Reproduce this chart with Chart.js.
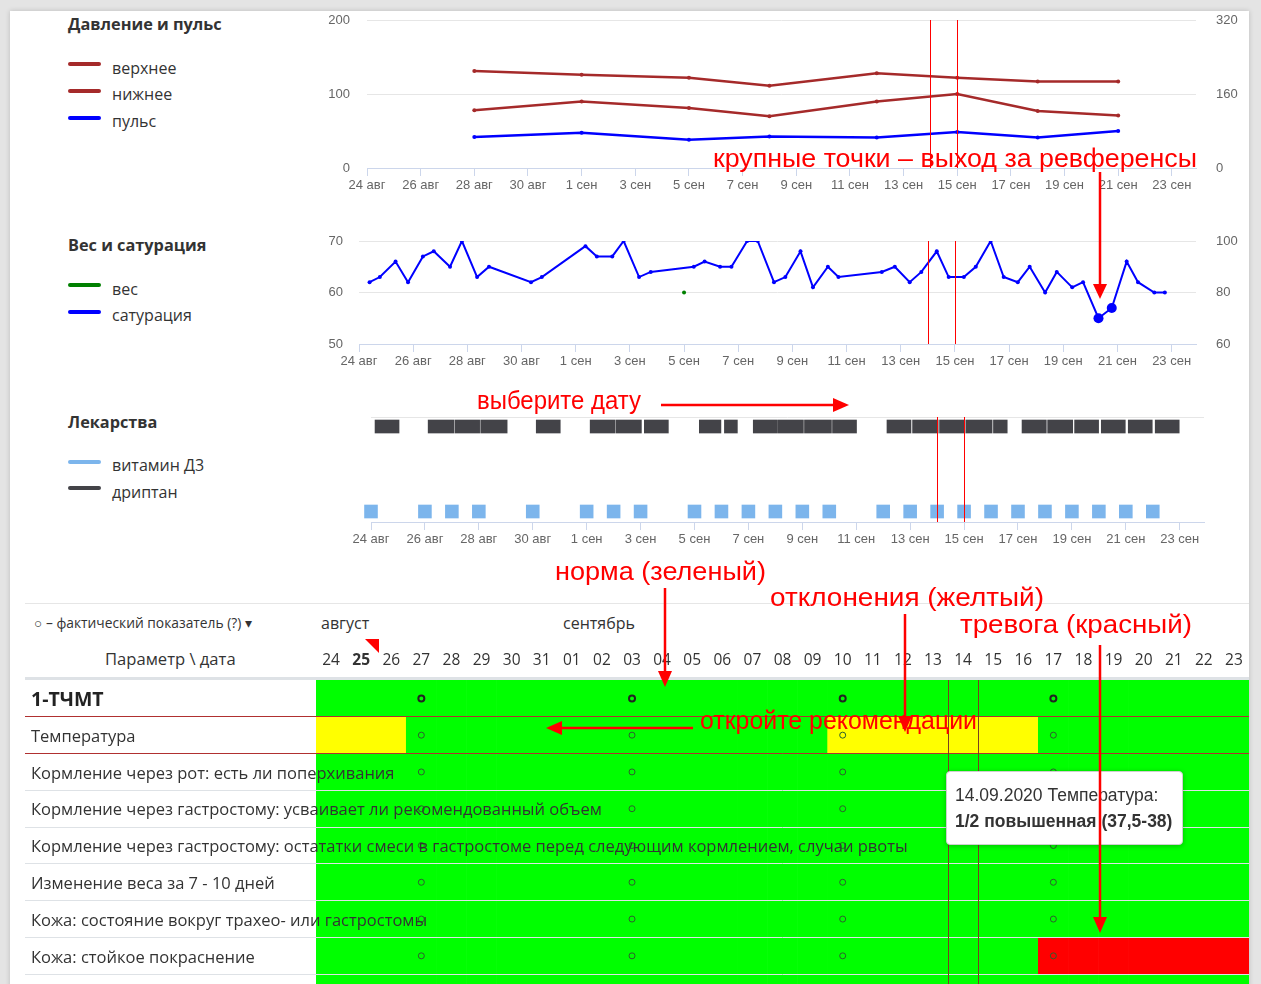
<!DOCTYPE html>
<html lang="ru">
<head>
<meta charset="utf-8">
<title>Показатели пациента</title>
<script src="https://cdn.jsdelivr.net/npm/chart.js@4.4.1/dist/chart.umd.min.js"></script>
<style>
  html, body { margin: 0; padding: 0; overflow: hidden; }
  body { width: 1261px; height: 984px; position: relative; background: #e4e4e4; font-family: 'Open Sans', sans-serif; color: #333; }
  #sheet { position: absolute; left: 10px; top: 11px; width: 1239px; height: 990px; background: #fff; box-shadow: 0 0 5px rgba(0,0,0,0.18); }
  canvas { position: absolute; }
  .ttl { position: absolute; left: 68px; font: bold 16.3px/20px 'Open Sans', sans-serif; color: #333; white-space: nowrap; }
  .sw { position: absolute; left: 68px; width: 33px; height: 4px; border-radius: 2px; }
  .lg { position: absolute; left: 112px; font: 16px/20px 'Open Sans', sans-serif; color: #333; white-space: nowrap; }
  .hl { position: absolute; left: 25px; width: 1224px; }
  .mon { position: absolute; top: 613px; font: 16px/20px 'Open Sans', sans-serif; color: #333; }
  #fact { position: absolute; left: 34px; top: 614px; font: 13.8px/18px 'Open Sans', sans-serif; color: #333; white-space: nowrap; }
  #param { position: absolute; left: 105px; top: 649px; font: 16.6px/20px 'Open Sans', sans-serif; color: #333; }
  #tip { position: absolute; left: 946px; top: 771px; width: 235px; height: 72px; background: #fff; border: 1px solid #cfcfcf; border-radius: 4px; box-shadow: 0 1px 5px rgba(0,0,0,0.25); font-family: 'Liberation Sans', Arial, sans-serif; color: #333; }
  #tip div { position: absolute; left: 8px; white-space: nowrap; font-size: 17.5px; line-height: 20px; }
  #notes { position: absolute; left: 0; top: 0; }
</style>
</head>
<body>
<div id="sheet"></div>

<!-- левая колонка с легендами -->
<div class="ttl" style="top:14px">Давление и пульс</div>
<div class="sw" style="top:62px;background:#a52a2a"></div><div class="lg" style="top:58px">верхнее</div>
<div class="sw" style="top:89px;background:#a52a2a"></div><div class="lg" style="top:84px">нижнее</div>
<div class="sw" style="top:116px;background:#0000ff"></div><div class="lg" style="top:111px">пульс</div>

<div class="ttl" style="top:235px">Вес и сатурация</div>
<div class="sw" style="top:283px;background:#008000"></div><div class="lg" style="top:279px">вес</div>
<div class="sw" style="top:310px;background:#0000ff"></div><div class="lg" style="top:305px">сатурация</div>

<div class="ttl" style="top:412px">Лекарства</div>
<div class="sw" style="top:460px;background:#7cb5ec"></div><div class="lg" style="top:455px">витамин Д3</div>
<div class="sw" style="top:486px;background:#434348"></div><div class="lg" style="top:482px">дриптан</div>

<canvas id="bp" width="950" height="190" style="left:300px;top:10px"></canvas>
<canvas id="ws" width="950" height="150" style="left:300px;top:230px"></canvas>
<canvas id="med" width="950" height="155" style="left:300px;top:405px"></canvas>

<!-- шапка таблицы -->
<div class="hl" style="top:603px;height:1px;background:#e6e6e6"></div>
<div id="fact">○ – фактический показатель (?) ▾</div>
<div class="mon" style="left:321px">август</div>
<div class="mon" style="left:563px">сентябрь</div>
<div id="param">Параметр \ дата</div>
<div class="hl" style="top:677px;height:3px;background:#dee2e6"></div>

<canvas id="tbl" width="1224" height="381" style="left:25px;top:630px"></canvas>

<div id="tip">
  <div style="top:13px">14.09.2020 Температура:</div>
  <div style="top:39px;font-weight:bold">1/2 повышенная (37,5-38)</div>
</div>

<svg id="notes" width="1261" height="984">
  <polygon points="365,639 379,639 379,653" fill="#ff0000"/>
  <g fill="#ff0000" font-family="'Liberation Sans', Arial, sans-serif" font-size="25" style="white-space:pre">
    <text x="713" y="167" textLength="484" lengthAdjust="spacingAndGlyphs">крупные точки – выход за ревференсы</text>
    <text x="477" y="409" textLength="164" lengthAdjust="spacingAndGlyphs">выберите дату</text>
    <text x="555" y="580" textLength="211" lengthAdjust="spacingAndGlyphs">норма (зеленый)</text>
    <text x="770" y="606" textLength="274" lengthAdjust="spacingAndGlyphs">отклонения  (желтый)</text>
    <text x="960" y="633" textLength="232" lengthAdjust="spacingAndGlyphs">тревога  (красный)</text>
    <text x="700" y="729" textLength="277" lengthAdjust="spacingAndGlyphs">откройте рекомендации</text>
  </g>
  <g stroke="#ff0000" stroke-width="2.5">
    <line x1="1100" y1="172" x2="1100" y2="285"/>
    <line x1="661" y1="405" x2="834" y2="405"/>
    <line x1="665" y1="588" x2="665" y2="672"/>
    <line x1="905" y1="614" x2="905" y2="717"/>
    <line x1="1100" y1="645" x2="1100" y2="918"/>
    <line x1="693" y1="728" x2="561" y2="728"/>
  </g>
  <g fill="#ff0000">
    <polygon points="1093,284 1107,284 1100,299"/>
    <polygon points="833,398 833,412 849,405"/>
    <polygon points="658,671 672,671 665,687"/>
    <polygon points="898,716 912,716 905,732"/>
    <polygon points="1093,917 1107,917 1100,933"/>
    <polygon points="562,721 562,735 546,728"/>
  </g>
</svg>

<script>
// ---------- данные ----------
// подписи оси времени (шаг 2 дня, отсчёт дней от 24 авг)
const dayTicks = ['24 авг', '26 авг', '28 авг', '30 авг', '1 сен', '3 сен', '5 сен', '7 сен',
                  '9 сен', '11 сен', '13 сен', '15 сен', '17 сен', '19 сен', '21 сен', '23 сен'];
const selectedDay = 21; // 14 сен - выбранная дата

// давление и пульс
const bpDays  = [4, 8, 12, 15, 19, 22, 25, 28];
const bpUpper = [131, 126, 122, 111, 128, 122, 117, 117];
const bpLower = [78, 90, 81, 70, 90, 100, 77, 71];
const pulse   = [67, 76, 61, 68, 66, 78, 66, 80];

// вес и сатурация
const weightDays = [12];
const weight = [60];
const satDays = [0.39, 0.77, 1.35, 1.81, 2.36, 2.76, 3.36, 3.8, 4.36, 4.8, 6.35, 6.75, 8.36, 8.78,
                 9.35, 9.77, 10.34, 10.77, 12.36, 12.76, 13.33, 13.75, 14.33, 14.72, 15.32, 15.74,
                 16.3, 16.76, 17.31, 17.7, 19.3, 19.78, 20.33, 20.76, 21.33, 21.77, 22.33, 22.77,
                 23.32, 23.8, 24.32, 24.76, 25.33, 25.76, 26.33, 26.73, 27.3, 27.79, 28.34, 28.76,
                 29.36, 29.75];
const saturation = [84, 86, 92, 84, 94, 96, 90, 100, 86, 90, 84, 86, 98, 94,
                    94, 100, 86, 88, 90, 92, 90, 90, 100, 100, 84, 86,
                    96, 82, 90, 86, 88, 90, 84, 88, 96, 86, 86, 90,
                    100, 86, 84, 90, 80, 88, 82, 84, 70, 74, 92, 84,
                    80, 80];
const satRefLow = 75; // ниже - выход за референс

// лекарства
const vitaminDays = [0, 2, 3, 4, 6, 8, 9, 10, 12, 13, 14, 15, 16, 17, 19, 20, 21, 22, 23, 24, 25, 26, 27, 28, 29];
const vitDose = 0.48;
const dripStart = [0.15, 2.12, 3.12, 4.07, 6.13, 8.13, 9.1, 10.14, 12.18, 13.11, 14.18, 15.11, 16.08,
                   17.12, 19.14, 20.09, 21.09, 22.08, 23.09, 24.15, 25.1, 26.1, 27.09, 28.09, 29.09];
const dripEnd   = [1.04, 3.08, 4.03, 5.05, 7.02, 9.06, 10.03, 11.03, 12.98, 13.59, 15.08, 16.04, 17.08,
                   18.01, 20.03, 21.04, 22.04, 23.04, 23.6, 25.05, 26.03, 26.99, 27.98, 28.98, 29.98];

// таблица показателей
const tableDays = ['24', '25', '26', '27', '28', '29', '30', '31',
                   '01', '02', '03', '04', '05', '06', '07', '08', '09', '10', '11', '12',
                   '13', '14', '15', '16', '17', '18', '19', '20', '21', '22', '23'];
const todayIdx = 1;
const rowNames = [
  '1-ТЧМТ',
  'Температура',
  'Кормление через рот: есть ли поперхивания',
  'Кормление через гастростому: усваивает ли рекомендованный объем',
  'Кормление через гастростому: остататки смеси в гастростоме перед следующим кормлением, случаи рвоты',
  'Изменение веса за 7 - 10 дней',
  'Кожа: состояние вокруг трахео- или гастростомы',
  'Кожа: стойкое покраснение',
  ''
];
// g - норма, y - отклонение, r - тревога (август | сентябрь)
const rowStatus = [
  'gggggggg|ggggggggggggggggggggggg',
  'yyyggggg|gggggggggyyyyyyyggggggg',
  'gggggggg|ggggggggggggggggggggggg',
  'gggggggg|ggggggggggggggggggggggg',
  'gggggggg|ggggggggggggggggggggggg',
  'gggggggg|ggggggggggggggggggggggg',
  'gggggggg|ggggggggggggggggggggggg',
  'gggggggg|ggggggggggggggggrrrrrrr',
  'gggggggg|ggggggggggggggggggggggg'
];
const markDays = ['27', '03', '10', '17'];

// ---------- общие настройки ----------
Chart.defaults.animation = false;
Chart.defaults.responsive = false;
Chart.defaults.events = [];
Chart.defaults.plugins.legend.display = false;
Chart.defaults.plugins.tooltip.enabled = false;
Chart.defaults.font.family = "'Liberation Sans', Arial, sans-serif";
Chart.defaults.color = '#666';

// красные линии выбранной даты
const dayLines = {
  id: 'dayLines',
  afterDatasetsDraw(chart) {
    const { ctx, chartArea: a, scales: { x } } = chart;
    ctx.save();
    ctx.strokeStyle = '#ff0000';
    ctx.lineWidth = 1;
    [selectedDay, selectedDay + 1].forEach(d => {
      const px = Math.round(x.getPixelForValue(d)) + 0.5;
      ctx.beginPath();
      ctx.moveTo(px, a.top);
      ctx.lineTo(px, a.bottom);
      ctx.stroke();
    });
    ctx.restore();
  }
};

function dayAxis(height) {
  return {
    type: 'linear', min: 0, max: 30.9,
    afterBuildTicks: s => { s.ticks = dayTicks.map((t, i) => ({ value: i * 2 })); },
    afterFit: s => { s.height = height; },
    ticks: { callback: (v, i) => dayTicks[i], font: { size: 13 }, padding: 2, maxRotation: 0, autoSkip: false },
    grid: { drawOnChartArea: false, tickLength: 8, tickColor: '#ccd6eb' },
    border: { color: '#ccd6eb' }
  };
}

function leftAxis(min, max, step, width, gap) {
  return {
    position: 'left', min: min, max: max,
    afterFit: s => { s.width = width; },
    ticks: { stepSize: step, padding: 0, font: { size: 13 } },
    grid: { color: '#e6e6e6', tickLength: gap, tickColor: 'transparent' },
    border: { display: false }
  };
}

function rightAxis(min, max, step, width) {
  return {
    position: 'right', min: min, max: max,
    afterFit: s => { s.width = width; },
    ticks: { stepSize: step, padding: 0, font: { size: 13 } },
    grid: { display: false, drawTicks: true, tickLength: 20 },
    border: { display: false }
  };
}

function pts(days, vals) {
  return days.map((d, i) => ({ x: d, y: vals[i] }));
}

// давление и пульс
new Chart(document.getElementById('bp'), {
  type: 'line',
  data: {
    datasets: [
      { label: 'верхнее', data: pts(bpDays, bpUpper), borderColor: '#a52a2a', pointBackgroundColor: '#a52a2a', yAxisID: 'y' },
      { label: 'нижнее', data: pts(bpDays, bpLower), borderColor: '#a52a2a', pointBackgroundColor: '#a52a2a', yAxisID: 'y' },
      { label: 'пульс', data: pts(bpDays, pulse), borderColor: '#0000ff', pointBackgroundColor: '#0000ff', yAxisID: 'y2' }
    ]
  },
  options: {
    layout: { autoPadding: false, padding: { top: 10 } },
    elements: { line: { borderWidth: 2.5, tension: 0 }, point: { radius: 2, borderWidth: 0 } },
    scales: {
      x: dayAxis(32),
      y: leftAxis(0, 200, 100, 67, 17),
      y2: rightAxis(0, 320, 160, 54)
    }
  },
  plugins: [dayLines]
});

// вес и сатурация
new Chart(document.getElementById('ws'), {
  type: 'line',
  data: {
    datasets: [
      { label: 'вес', data: pts(weightDays, weight), borderColor: '#008000', pointBackgroundColor: '#008000', yAxisID: 'y' },
      {
        label: 'сатурация', data: pts(satDays, saturation), borderColor: '#0000ff', pointBackgroundColor: '#0000ff', yAxisID: 'y2',
        pointRadius: c => (c.raw && c.raw.y < satRefLow ? 5 : 2)
      }
    ]
  },
  options: {
    layout: { autoPadding: false, padding: { top: 11 } },
    elements: { line: { borderWidth: 2, tension: 0 }, point: { radius: 2, borderWidth: 0 } },
    scales: {
      x: dayAxis(36),
      y: leftAxis(50, 70, 10, 59, 16),
      y2: rightAxis(60, 100, 20, 54)
    }
  },
  plugins: [dayLines]
});

// лекарства
new Chart(document.getElementById('med'), {
  type: 'bar',
  data: {
    datasets: [
      { label: 'дриптан', data: dripStart.map((s, i) => ({ x: [s, dripEnd[i]], y: 0 })), backgroundColor: '#434348' },
      { label: 'витамин Д3', data: vitaminDays.map(d => ({ x: [d - vitDose / 2, d + vitDose / 2], y: 1 })), backgroundColor: '#7cb5ec' }
    ]
  },
  options: {
    indexAxis: 'y',
    layout: { autoPadding: false, padding: { top: 12, right: 46 } },
    datasets: { bar: { barThickness: 13, grouped: false, clip: false } },
    scales: {
      x: dayAxis(38),
      y: {
        type: 'linear', reverse: true, offset: false, min: -0.112, max: 1.1235,
        afterBuildTicks: s => { s.ticks = [{ value: s.min }]; },
        afterFit: s => { s.width = 71; },
        ticks: { display: false },
        grid: { color: '#e6e6e6', drawTicks: false, offset: false },
        border: { display: false }
      }
    }
  },
  plugins: [dayLines]
});

// ---------- таблица ----------
const statusColor = { g: '#00ff00', y: '#ffff00', r: '#ff0000' };
const tableFont = "'Open Sans', sans-serif";

const cellSets = rowNames.map((name, r) => ({
  type: 'bar',
  label: name,
  data: tableDays.map(() => [r, r + 1]),
  backgroundColor: rowStatus[r].replace('|', '').split('').map(s => statusColor[s]),
  grouped: false,
  barPercentage: 1,
  categoryPercentage: 1,
  order: 1
}));

const marks = [];
rowNames.forEach((name, r) => {
  if (name) markDays.forEach(d => marks.push({ x: d, y: r + 0.5 }));
});

const markSet = {
  type: 'scatter',
  label: 'факт',
  data: marks,
  order: 0,
  pointStyle: 'circle',
  pointRadius: 3,
  pointBackgroundColor: 'transparent',
  pointBorderWidth: c => (c.raw && c.raw.y < 1 ? 2 : 1),
  pointBorderColor: c => (c.raw && c.raw.y < 1 ? '#222' : '#2e5e2e')
};

const sepColor = c => {
  if (c.index === 0) return 'transparent';
  if (c.index === 1 || c.index === 2) return '#b03030';
  return '#dee2e6';
};

// тёмные линии выбранного столбца
const columnLines = {
  id: 'columnLines',
  afterDraw(chart) {
    const { ctx, chartArea: a, scales: { x } } = chart;
    const half = (x.getPixelForValue(1) - x.getPixelForValue(0)) / 2;
    const c = x.getPixelForValue(selectedDay);
    ctx.save();
    ctx.strokeStyle = '#7a3f1f';
    ctx.lineWidth = 1;
    [c - half, c + half].forEach(px => {
      const p = Math.round(px) + 0.5;
      ctx.beginPath();
      ctx.moveTo(p, a.top);
      ctx.lineTo(p, a.bottom);
      ctx.stroke();
    });
    ctx.restore();
  }
};

new Chart(document.getElementById('tbl'), {
  type: 'bar',
  data: { labels: tableDays, datasets: [...cellSets, markSet] },
  options: {
    layout: { autoPadding: false, padding: { left: 6 } },
    scales: {
      x: {
        type: 'category', position: 'top',
        afterFit: s => { s.height = 50; },
        grid: { display: false, drawTicks: true, tickLength: 10 },
        border: { display: false },
        ticks: {
          padding: 0, autoSkip: false, maxRotation: 0, color: '#333',
          font: c => ({ family: tableFont, size: 15.5, weight: c.index === todayIdx ? 'bold' : 'normal' })
        }
      },
      y: {
        type: 'linear', reverse: true, min: 0, max: rowNames.length,
        afterBuildTicks: s => { s.ticks = rowNames.map((n, i) => ({ value: i + 0.5 })); },
        afterFit: s => { s.width = 285; },
        ticks: {
          mirror: true, padding: -285, labelOffset: 2, z: 1, autoSkip: false,
          callback: (v, i) => rowNames[i],
          color: c => (c.index === 0 ? '#222' : '#333'),
          font: c => (c.index === 0 ? { family: tableFont, size: 19.5, weight: 'bold' } : { family: tableFont, size: 16.5 })
        },
        grid: { z: 1, offset: true, tickLength: 291, color: sepColor, tickColor: sepColor },
        border: { display: false }
      }
    }
  },
  plugins: [columnLines]
});
</script>
</body>
</html>
